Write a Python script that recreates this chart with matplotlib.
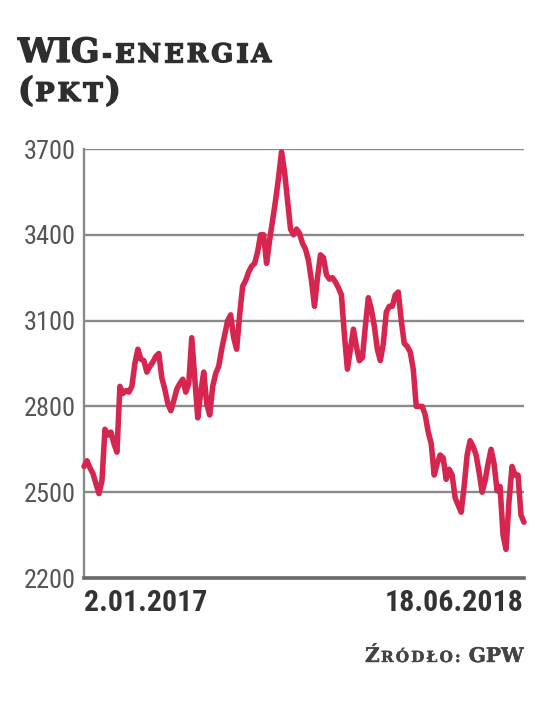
import matplotlib
matplotlib.use('Agg')
import matplotlib.pyplot as plt
import matplotlib.patheffects as pe
import pandas as pd

# ---- data ----
start_date = '2017-01-02'
end_date = '2018-06-18'
values = [
    2590, 2610, 2585, 2565, 2530, 2495, 2540, 2720, 2700, 2710,
    2670, 2640, 2870, 2845, 2855, 2850, 2870, 2950, 3000, 2965,
    2960, 2920, 2940, 2955, 2975, 2985, 2900, 2860, 2810, 2785,
    2820, 2860, 2880, 2895, 2850, 2880, 3040, 2900, 2760, 2850,
    2920, 2810, 2770, 2870, 2915, 2940, 3000, 3050, 3100, 3120,
    3040, 3000, 3120, 3220, 3240, 3270, 3290, 3300, 3340, 3400,
    3400, 3300, 3380, 3450, 3520, 3600, 3690, 3620, 3520, 3420,
    3400, 3420, 3405, 3370, 3350, 3310, 3240, 3150, 3250, 3330,
    3320, 3260, 3245, 3250, 3235, 3215, 3190, 3050, 2930, 3000,
    3070, 3010, 2960, 2970, 3080, 3180, 3140, 3080, 3000, 2960,
    3020, 3130, 3150, 3150, 3190, 3200, 3100, 3020, 3010, 2990,
    2930, 2800, 2800, 2800, 2770, 2710, 2670, 2560, 2600, 2630,
    2620, 2545, 2580, 2560, 2480, 2455, 2430, 2520, 2630, 2680,
    2660, 2630, 2570, 2500, 2540, 2600, 2650, 2600, 2505, 2520,
    2350, 2300, 2470, 2590, 2560, 2560, 2420, 2395,
]
yticks = [2200, 2500, 2800, 3100, 3400, 3700]
x_labels = ['2.01.2017', '18.06.2018']
title_runs = [('WIG', 'big'), ('-ENERGIA', 'small')]
unit_runs = [('(', 'paren'), ('PKT', 'small'), (')', 'paren')]
source_runs = [('Ź', 'sbig'), ('RÓDŁO:', 'ssmall'), (' ', 'gap'), ('GPW', 'sbig')]

W, H = 536, 705
fig = plt.figure(figsize=(W / 100, H / 100), dpi=100)
fig.patch.set_facecolor('white')

left_px, right_px, top_px, bottom_px = 84, 524, 149, 578
ax = fig.add_axes([left_px / W, 1 - bottom_px / H,
                   (right_px - left_px) / W, (bottom_px - top_px) / H])

dates = pd.date_range(start_date, end_date, periods=len(values))
ax.plot(dates, values, color='#d6264f', lw=4.0, solid_joinstyle='round',
        solid_capstyle='round', clip_on=False, zorder=3)
ax.set_ylim(2200, 3700)
ax.set_xlim(dates[0], dates[-1])
ax.set_yticks(yticks)
ax.set_yticklabels([str(v) for v in yticks])
ax.yaxis.grid(True, color='#8a8a8a', lw=1.7)
ax.set_axisbelow(True)
for s in ['top', 'right']:
    ax.spines[s].set_visible(False)
ax.spines['left'].set_color('#8a8a8a')
ax.spines['left'].set_linewidth(1.7)
ax.spines['bottom'].set_color('#6a6a6a')
ax.spines['bottom'].set_linewidth(2.6)
ax.spines['bottom'].set_zorder(4)
ax.tick_params(axis='y', length=0, pad=6, labelsize=19, labelcolor='#555555')
ax.tick_params(axis='x', length=0, labelbottom=False)
cond = ['Roboto Condensed', 'DejaVu Sans']
for lab in ax.get_yticklabels():
    lab.set_family(cond)

ax.text(0, -0.025, x_labels[0], transform=ax.transAxes, ha='left', va='top',
        fontsize=21.5, fontweight='bold', color='#333333', family=cond)
ax.text(1, -0.025, x_labels[1], transform=ax.transAxes, ha='right', va='top',
        fontsize=21.5, fontweight='bold', color='#333333', family=cond)

serif = ['DejaVu Serif']
sizes = {'big': 24, 'small': 18.5, 'paren': 24, 'sbig': 14.5, 'ssmall': 11.0, 'gap': 10.0}
track = {'big': 0, 'small': 1.5, 'paren': 0, 'sbig': 0, 'ssmall': 1, 'gap': 0}
renderer = fig.canvas.get_renderer()


def draw_runs(runs, x_px, base_px, align='left', color='#333333', stroke=0.0):
    pieces = []
    for txt, kind in runs:
        if kind == 'gap':
            pieces.append((None, 6))
            continue
        chars = list(txt) if track[kind] else [txt]
        for ch in chars:
            t = fig.text(0, 0, ch, fontsize=sizes[kind], fontweight='bold',
                         family=serif, color=color, va='baseline', ha='left')
            if stroke:
                t.set_path_effects([pe.withStroke(linewidth=stroke, foreground=color)])
            w = t.get_window_extent(renderer).width + 1 + track[kind] + stroke * 0.5
            pieces.append((t, w))
    total = sum(w for _, w in pieces)
    x = x_px if align == 'left' else x_px - total
    for t, w in pieces:
        if t is not None:
            t.set_position((x / W, 1 - base_px / H))
        x += w


draw_runs(title_runs, 18, 62, color='#2e2e2e', stroke=1.0)
draw_runs(unit_runs, 18, 101, color='#2e2e2e', stroke=1.0)
draw_runs(source_runs, 525, 662, align='right', color='#444444', stroke=0.3)

fig.savefig('out.png', dpi=100, facecolor='white')
